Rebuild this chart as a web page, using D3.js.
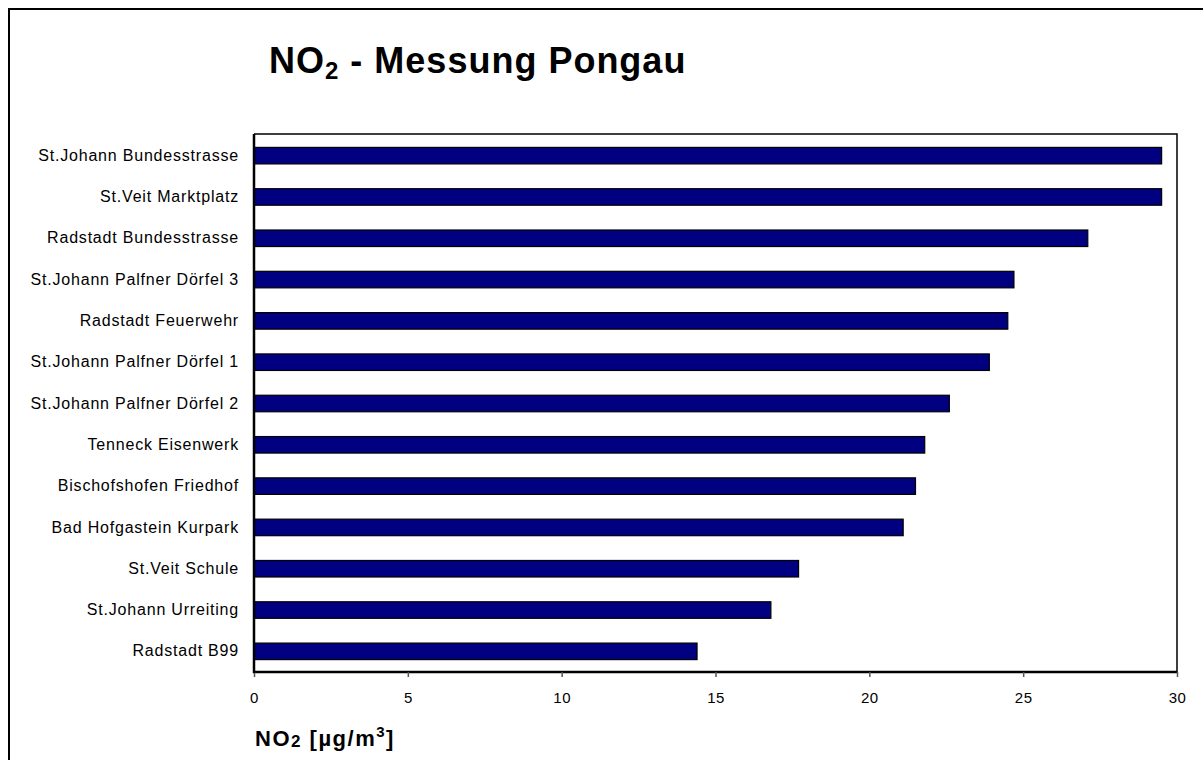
<!DOCTYPE html>
<html>
<head>
<meta charset="utf-8">
<script src="https://cdn.jsdelivr.net/npm/d3@7"></script>
<style>
  html, body { margin: 0; padding: 0; background: #fff; }
  svg { display: block; font-family: Arial, "Liberation Sans", sans-serif; }
</style>
</head>
<body>
<svg id="chart" width="1203" height="760"></svg>
<script>
// Measuring stations, top to bottom
const stations = [
  "St.Johann Bundesstrasse",
  "St.Veit Marktplatz",
  "Radstadt Bundesstrasse",
  "St.Johann Palfner Dörfel 3",
  "Radstadt Feuerwehr",
  "St.Johann Palfner Dörfel 1",
  "St.Johann Palfner Dörfel 2",
  "Tenneck Eisenwerk",
  "Bischofshofen Friedhof",
  "Bad Hofgastein Kurpark",
  "St.Veit Schule",
  "St.Johann Urreiting",
  "Radstadt B99"
];

// NO2 concentration in µg/m³ per station
const no2Values = [29.5, 29.5, 27.1, 24.7, 24.5, 23.9, 22.6, 21.8, 21.5, 21.1, 17.7, 16.8, 14.4];

// Axis ticks
const xTicks = [0, 5, 10, 15, 20, 25, 30];

const svg = d3.select("#chart");

// Outer frame (only top and left edges fall within the page)
svg.append("rect")
  .attr("x", 9).attr("y", 9)
  .attr("width", 1300).attr("height", 900)
  .attr("fill", "none")
  .attr("stroke", "#000")
  .attr("stroke-width", 2);

const plot = { left: 254, right: 1177, top: 134, bottom: 672 };

const x = d3.scaleLinear()
  .domain([0, 30])
  .range([plot.left, plot.right]);

const y = d3.scaleBand()
  .domain(stations)
  .range([plot.top + 1, plot.bottom])
  .paddingInner(0.6)
  .paddingOuter(0.3);

// Plot area border (top and right)
svg.append("path")
  .attr("d", `M${plot.left},${plot.top}H${plot.right}V${plot.bottom}`)
  .attr("fill", "none")
  .attr("stroke", "#000")
  .attr("stroke-width", 1.5);

// Bars
svg.append("g")
  .selectAll("rect")
  .data(stations)
  .join("rect")
  .attr("x", x(0))
  .attr("y", d => y(d))
  .attr("width", (d, i) => x(no2Values[i]) - x(0))
  .attr("height", y.bandwidth())
  .attr("fill", "#000080")
  .attr("stroke", "#000")
  .attr("stroke-width", 1.2);

// X axis
const xAxis = svg.append("g")
  .attr("transform", `translate(0,${plot.bottom})`)
  .call(d3.axisBottom(x).tickValues(xTicks).tickSize(5).tickPadding(15));
xAxis.select(".domain").attr("stroke", "#000").attr("stroke-width", 2.5)
  .attr("d", `M${plot.left - 1},0H${plot.right}`);
xAxis.selectAll(".tick line").attr("stroke", "#555").attr("stroke-width", 1.5);
xAxis.selectAll(".tick text")
  .attr("font-size", 15)
  .attr("letter-spacing", 0.5)
  .attr("font-family", "Arial, 'Liberation Sans', sans-serif")
  .attr("fill", "#000");

// Y axis
const yAxis = svg.append("g")
  .attr("transform", `translate(${plot.left},0)`)
  .call(d3.axisLeft(y).tickSize(0).tickPadding(15));
yAxis.select(".domain").attr("stroke", "#000").attr("stroke-width", 2.5)
  .attr("d", `M0,${plot.top}V${plot.bottom + 1}`);
yAxis.selectAll(".tick text")
  .attr("font-size", 16)
  .attr("letter-spacing", 0.8)
  .attr("font-family", "Arial, 'Liberation Sans', sans-serif")
  .attr("fill", "#000");

// Title
const title = svg.append("text")
  .attr("x", 269).attr("y", 73)
  .attr("font-size", 36)
  .attr("letter-spacing", 1)
  .attr("font-weight", "bold")
  .attr("fill", "#000");
title.append("tspan").text("NO");
title.append("tspan").attr("font-size", 24).attr("dy", 6).text("2");
title.append("tspan").attr("dy", -6).text(" - Messung Pongau");

// X axis title
const xTitle = svg.append("text")
  .attr("x", 255).attr("y", 746)
  .attr("font-size", 22)
  .attr("letter-spacing", 1.5)
  .attr("font-weight", "bold")
  .attr("fill", "#000");
xTitle.append("tspan").text("NO");
xTitle.append("tspan").attr("font-size", 17).attr("dy", 1).text("2");
xTitle.append("tspan").attr("dy", -1).text(" [µg/m");
xTitle.append("tspan").attr("font-size", 15).attr("dy", -9).text("3");
xTitle.append("tspan").attr("dy", 9).text("]");
</script>
</body>
</html>
